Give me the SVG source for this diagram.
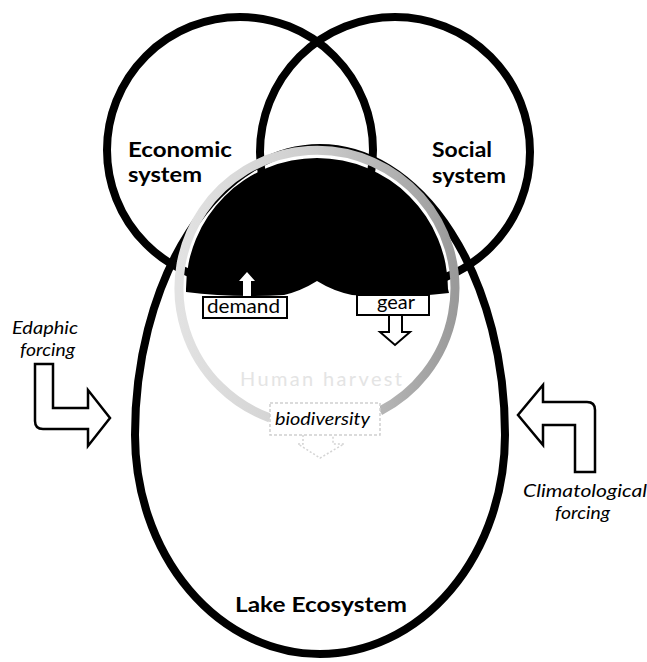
<svg xmlns="http://www.w3.org/2000/svg" width="647" height="662" viewBox="0 0 647 662">
  <style>
    .ring { fill: none; stroke: #000; stroke-width: 8; }
    .lbl { font-family: Lato, "Open Sans", "Liberation Sans", sans-serif; font-weight: bold; font-size: 21px; fill: #000; }
    .ital { font-family: Lato, "Open Sans", "Liberation Sans", sans-serif; font-style: italic; font-size: 18px; fill: #000; }
    .box { fill: #fff; stroke: #000; stroke-width: 2; }
    .boxtxt { font-family: Lato, "Open Sans", "Liberation Sans", sans-serif; font-size: 19px; fill: #000; }
    .bigarrow { fill: #fff; stroke: #000; stroke-width: 2.5; stroke-linejoin: miter; }
  </style>
  <defs>
    <linearGradient id="harvestShade" x1="0" y1="0" x2="1" y2="0">
      <stop offset="0" stop-color="#e2e2e2"/>
      <stop offset="0.45" stop-color="#d0d0d0"/>
      <stop offset="0.75" stop-color="#b4b4b4"/>
      <stop offset="1" stop-color="#9a9a9a"/>
    </linearGradient>
  </defs>
  <rect width="647" height="662" fill="#fff"/>

  <!-- Lake ecosystem: egg-shaped outline -->
  <g id="lake">
    <path class="ring" stroke-width="9" d="M135,435 A185,287 0 0 1 505,435 A185,219 0 0 1 135,435 Z"/>
    <text class="lbl" x="235" y="612" textLength="172" lengthAdjust="spacingAndGlyphs">Lake Ecosystem</text>
  </g>

  <!-- Economic system circle -->
  <g id="economic">
    <circle class="ring" cx="240" cy="150" r="133"/>
    <text class="lbl" x="128" y="157" textLength="104" lengthAdjust="spacingAndGlyphs">Economic</text>
    <text class="lbl" x="128" y="182" textLength="74" lengthAdjust="spacingAndGlyphs">system</text>
  </g>

  <!-- Social system circle -->
  <g id="social">
    <circle class="ring" cx="395" cy="152" r="135"/>
    <text class="lbl" x="432" y="157" textLength="60" lengthAdjust="spacingAndGlyphs">Social</text>
    <text class="lbl" x="432" y="183" textLength="74" lengthAdjust="spacingAndGlyphs">system</text>
  </g>

  <!-- Human harvest loop with the dark overlap dome -->
  <g id="harvest">
    <path d="M186,289 A131,131 0 0 1 448,289 L449,293 Q400,299 352,295 Q333,291 317,281 Q301,291 284,295 Q232,298 186,292 Z" fill="#000"/>
    <path d="M270,418 A138,138 0 1 1 380,411" fill="none" stroke="url(#harvestShade)" stroke-width="9"/>
    <text x="240" y="386" font-family="Lato, 'Open Sans', 'Liberation Sans', sans-serif" font-size="20" fill="#e4e4e4" textLength="162">Human harvest</text>
  </g>

  <!-- demand box with its upward arrow -->
  <g id="demand">
    <path d="M243,298 L243,281 L239,281 L247,272 L255,281 L251,281 L251,298 Z" fill="#fff"/>
    <rect class="box" x="203" y="297" width="84" height="21"/>
    <text class="boxtxt" x="207" y="313" textLength="73" lengthAdjust="spacingAndGlyphs">demand</text>
  </g>

  <!-- gear box with its downward arrow -->
  <g id="gear">
    <path class="box" d="M389,314 L389,332 L380,332 L395,345 L410,332 L402,332 L402,314"/>
    <rect class="box" x="357" y="295" width="72" height="20"/>
    <text class="boxtxt" x="377" y="309" textLength="38" lengthAdjust="spacingAndGlyphs">gear</text>
  </g>

  <!-- biodiversity box, faint outline and arrow -->
  <g id="biodiversity">
    <path d="M303,435 L303,444 L298,444 L320,458 L344,444 L333,444 L333,433" fill="#fff" stroke="#d4d4d4" stroke-width="1.5" stroke-dasharray="2 2"/>
    <rect x="270" y="403" width="110" height="32" fill="#fff" stroke="#cfcfcf" stroke-width="1.5" stroke-dasharray="3 2"/>
    <text class="ital" x="275" y="425" font-size="19" textLength="95" lengthAdjust="spacingAndGlyphs">biodiversity</text>
  </g>

  <!-- Edaphic forcing -->
  <g id="edaphic">
    <text class="ital" x="12" y="334" textLength="66" lengthAdjust="spacingAndGlyphs">Edaphic</text>
    <text class="ital" x="20" y="356" textLength="55" lengthAdjust="spacingAndGlyphs">forcing</text>
    <path class="bigarrow" d="M35,364 L53,364 L53,408 L88,408 L88,390 L110,418 L88,446 L88,429 L43,429 Q35,429 35,421 Z"/>
  </g>

  <!-- Climatological forcing -->
  <g id="climatological">
    <path class="bigarrow" d="M595,472 L575,472 L575,425 L543,425 L543,445 L518,415 L543,385 L543,402 L587,402 Q595,402 595,410 Z"/>
    <text class="ital" x="523" y="497" textLength="124" lengthAdjust="spacingAndGlyphs">Climatological</text>
    <text class="ital" x="555" y="519" textLength="55" lengthAdjust="spacingAndGlyphs">forcing</text>
  </g>
</svg>
